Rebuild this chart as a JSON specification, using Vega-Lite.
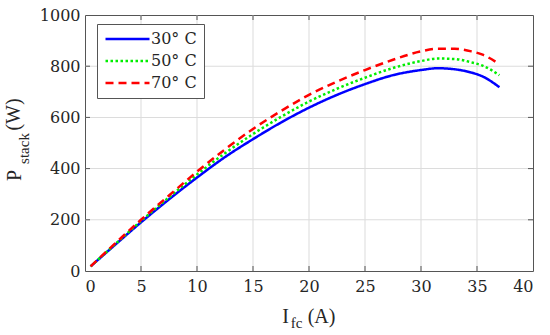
{
  "$schema": "https://vega.github.io/schema/vega-lite/v6.json",
  "autosize": "none",
  "width": 448,
  "height": 256,
  "padding": {"left": 85, "top": 15, "right": 17, "bottom": 64},
  "background": "white",
  "config": {
    "view": {"stroke": "#555555", "strokeWidth": 1},
    "axis": {"titleColor": "#262626", "titleFontWeight": "normal", "domain": false, "grid": false, "ticks": false}
  },
  "datasets": {
    "curves": [
      {"I": 0.5, "P": 18, "T": "30° C"},
      {"I": 2.5, "P": 95, "T": "30° C"},
      {"I": 5, "P": 190, "T": "30° C"},
      {"I": 7.5, "P": 280, "T": "30° C"},
      {"I": 10, "P": 365, "T": "30° C"},
      {"I": 12.5, "P": 445, "T": "30° C"},
      {"I": 15, "P": 515, "T": "30° C"},
      {"I": 17.5, "P": 580, "T": "30° C"},
      {"I": 20, "P": 638, "T": "30° C"},
      {"I": 22.5, "P": 688, "T": "30° C"},
      {"I": 25, "P": 730, "T": "30° C"},
      {"I": 27.5, "P": 765, "T": "30° C"},
      {"I": 30, "P": 785, "T": "30° C"},
      {"I": 31.5, "P": 792, "T": "30° C"},
      {"I": 33, "P": 788, "T": "30° C"},
      {"I": 34.5, "P": 775, "T": "30° C"},
      {"I": 35.5, "P": 760, "T": "30° C"},
      {"I": 37, "P": 718, "T": "30° C"},
      {"I": 0.5, "P": 18, "T": "50° C"},
      {"I": 2.5, "P": 97, "T": "50° C"},
      {"I": 5, "P": 195, "T": "50° C"},
      {"I": 7.5, "P": 288, "T": "50° C"},
      {"I": 10, "P": 377, "T": "50° C"},
      {"I": 12.5, "P": 460, "T": "50° C"},
      {"I": 15, "P": 535, "T": "50° C"},
      {"I": 17.5, "P": 602, "T": "50° C"},
      {"I": 20, "P": 662, "T": "50° C"},
      {"I": 22.5, "P": 712, "T": "50° C"},
      {"I": 25, "P": 755, "T": "50° C"},
      {"I": 27.5, "P": 793, "T": "50° C"},
      {"I": 30, "P": 820, "T": "50° C"},
      {"I": 31.5, "P": 830, "T": "50° C"},
      {"I": 33, "P": 828, "T": "50° C"},
      {"I": 34.5, "P": 815, "T": "50° C"},
      {"I": 35.5, "P": 802, "T": "50° C"},
      {"I": 37, "P": 765, "T": "50° C"},
      {"I": 0.5, "P": 18, "T": "70° C"},
      {"I": 2.5, "P": 100, "T": "70° C"},
      {"I": 5, "P": 200, "T": "70° C"},
      {"I": 7.5, "P": 295, "T": "70° C"},
      {"I": 10, "P": 388, "T": "70° C"},
      {"I": 12.5, "P": 475, "T": "70° C"},
      {"I": 15, "P": 555, "T": "70° C"},
      {"I": 17.5, "P": 625, "T": "70° C"},
      {"I": 20, "P": 688, "T": "70° C"},
      {"I": 22.5, "P": 740, "T": "70° C"},
      {"I": 25, "P": 785, "T": "70° C"},
      {"I": 27.5, "P": 825, "T": "70° C"},
      {"I": 30, "P": 858, "T": "70° C"},
      {"I": 31.5, "P": 868, "T": "70° C"},
      {"I": 33, "P": 868, "T": "70° C"},
      {"I": 34.5, "P": 858, "T": "70° C"},
      {"I": 35.5, "P": 845, "T": "70° C"},
      {"I": 37, "P": 808, "T": "70° C"}
    ],
    "xgrid": [{"v": 5}, {"v": 10}, {"v": 15}, {"v": 20}, {"v": 25}, {"v": 30}, {"v": 35}],
    "ygrid": [{"v": 200}, {"v": 400}, {"v": 600}, {"v": 800}]
  },
  "resolve": {"axis": {"x": "independent", "y": "independent"}},
  "layer": [
    {
      "data": {"name": "xgrid"},
      "mark": {"type": "tick", "orient": "vertical", "size": 256, "thickness": 1, "color": "#dcdcdc", "opacity": 1},
      "encoding": {
        "x": {"field": "v", "type": "quantitative", "scale": {"domain": [0, 40], "nice": false}, "axis": null},
        "y": {"datum": 500, "type": "quantitative", "scale": {"domain": [0, 1000], "nice": false}, "axis": null}
      }
    },
    {
      "data": {"name": "ygrid"},
      "mark": {"type": "tick", "orient": "horizontal", "size": 448, "thickness": 1, "color": "#dcdcdc", "opacity": 1},
      "encoding": {
        "y": {"field": "v", "type": "quantitative", "scale": {"domain": [0, 1000], "nice": false}, "axis": null},
        "x": {"datum": 20, "type": "quantitative", "scale": {"domain": [0, 40], "nice": false}, "axis": null}
      }
    },
    {
      "data": {"name": "curves"},
      "mark": {"type": "line", "strokeWidth": 2.5, "strokeCap": "butt", "interpolate": "monotone"},
      "encoding": {
        "x": {
          "field": "I", "type": "quantitative", "scale": {"domain": [0, 40], "nice": false},
          "axis": {
            "orient": "bottom", "values": [0,5,10,15,20,25,30,35,40], "format": "d",
            "labelPadding": 7, "labelFont": "DejaVu Serif", "labelFontSize": 16, "labelColor": "#262626",
            "title": "I", "titleFont": "Liberation Serif", "titleFontSize": 20, "titleX": 200, "titleY": 51,
            "titleAlign": "center", "titleBaseline": "alphabetic"
          }
        },
        "y": {
          "field": "P", "type": "quantitative", "scale": {"domain": [0, 1000], "nice": false},
          "axis": {
            "orient": "left", "values": [0,200,400,600,800,1000], "format": "d",
            "labelPadding": 5, "labelFont": "DejaVu Serif", "labelFontSize": 16, "labelColor": "#262626",
            "title": "P", "titleFont": "Liberation Serif", "titleFontSize": 20, "titleX": -65, "titleY": 160,
            "titleAngle": -90, "titleAlign": "center", "titleBaseline": "alphabetic"
          }
        },
        "color": {
          "field": "T", "type": "nominal",
          "scale": {"domain": ["30° C", "50° C", "70° C"], "range": ["#0000ff", "#00ee00", "#ff0000"]},
          "legend": {
            "title": null, "orient": "none", "legendX": 12, "legendY": 9,
            "fillColor": "white", "strokeColor": "#555555", "padding": 7,
            "symbolType": "stroke", "symbolSize": 1936, "symbolStrokeWidth": 2.5, "clipHeight": 16,
            "labelFont": "DejaVu Serif", "labelFontSize": 16, "labelColor": "#262626", "labelOffset": 0,
            "rowPadding": 6, "labelLimit": 0
          }
        },
        "strokeDash": {
          "field": "T", "type": "nominal",
          "scale": {"domain": ["30° C", "50° C", "70° C"], "range": [[1, 0], [2.5, 2.5], [8, 5]]},
          "legend": null
        }
      }
    },
    {
      "data": {"name": "curves"},
      "mark": {"type": "line", "opacity": 0},
      "encoding": {
        "detail": {"field": "T"},
        "x": {
          "field": "I", "type": "quantitative", "scale": {"domain": [0, 40], "nice": false},
          "axis": {
            "orient": "bottom", "labels": false,
            "title": "fc", "titleFont": "Liberation Serif", "titleFontSize": 15, "titleX": 211, "titleY": 56,
            "titleAlign": "center", "titleBaseline": "alphabetic"
          }
        },
        "y": {
          "field": "P", "type": "quantitative", "scale": {"domain": [0, 1000], "nice": false},
          "axis": {
            "orient": "left", "labels": false,
            "title": "stack", "titleFont": "Liberation Serif", "titleFontSize": 15, "titleX": -56.5, "titleY": 133,
            "titleAngle": -90, "titleAlign": "center", "titleBaseline": "alphabetic"
          }
        }
      }
    },
    {
      "data": {"name": "curves"},
      "mark": {"type": "line", "opacity": 0},
      "encoding": {
        "detail": {"field": "T"},
        "x": {
          "field": "I", "type": "quantitative", "scale": {"domain": [0, 40], "nice": false},
          "axis": {
            "orient": "bottom", "labels": false,
            "title": "(A)", "titleFont": "Liberation Serif", "titleFontSize": 20, "titleX": 236, "titleY": 51,
            "titleAlign": "center", "titleBaseline": "alphabetic"
          }
        },
        "y": {
          "field": "P", "type": "quantitative", "scale": {"domain": [0, 1000], "nice": false},
          "axis": {
            "orient": "left", "labels": false,
            "title": "(W)", "titleFont": "Liberation Serif", "titleFontSize": 20, "titleX": -66, "titleY": 99,
            "titleAngle": -90, "titleAlign": "center", "titleBaseline": "alphabetic"
          }
        }
      }
    },
    {
      "data": {"name": "xgrid"},
      "mark": {"type": "tick", "orient": "vertical", "size": 10, "thickness": 1, "color": "#555555", "opacity": 1, "clip": true},
      "encoding": {
        "x": {"field": "v", "type": "quantitative", "scale": {"domain": [0, 40], "nice": false}, "axis": null},
        "y": {"datum": 0, "type": "quantitative", "scale": {"domain": [0, 1000], "nice": false}, "axis": null}
      }
    },
    {
      "data": {"name": "xgrid"},
      "mark": {"type": "tick", "orient": "vertical", "size": 10, "thickness": 1, "color": "#555555", "opacity": 1, "clip": true},
      "encoding": {
        "x": {"field": "v", "type": "quantitative", "scale": {"domain": [0, 40], "nice": false}, "axis": null},
        "y": {"datum": 1000, "type": "quantitative", "scale": {"domain": [0, 1000], "nice": false}, "axis": null}
      }
    },
    {
      "data": {"name": "ygrid"},
      "mark": {"type": "tick", "orient": "horizontal", "size": 10, "thickness": 1, "color": "#555555", "opacity": 1, "clip": true},
      "encoding": {
        "y": {"field": "v", "type": "quantitative", "scale": {"domain": [0, 1000], "nice": false}, "axis": null},
        "x": {"datum": 0, "type": "quantitative", "scale": {"domain": [0, 40], "nice": false}, "axis": null}
      }
    },
    {
      "data": {"name": "ygrid"},
      "mark": {"type": "tick", "orient": "horizontal", "size": 10, "thickness": 1, "color": "#555555", "opacity": 1, "clip": true},
      "encoding": {
        "y": {"field": "v", "type": "quantitative", "scale": {"domain": [0, 1000], "nice": false}, "axis": null},
        "x": {"datum": 40, "type": "quantitative", "scale": {"domain": [0, 40], "nice": false}, "axis": null}
      }
    }
  ]
}
